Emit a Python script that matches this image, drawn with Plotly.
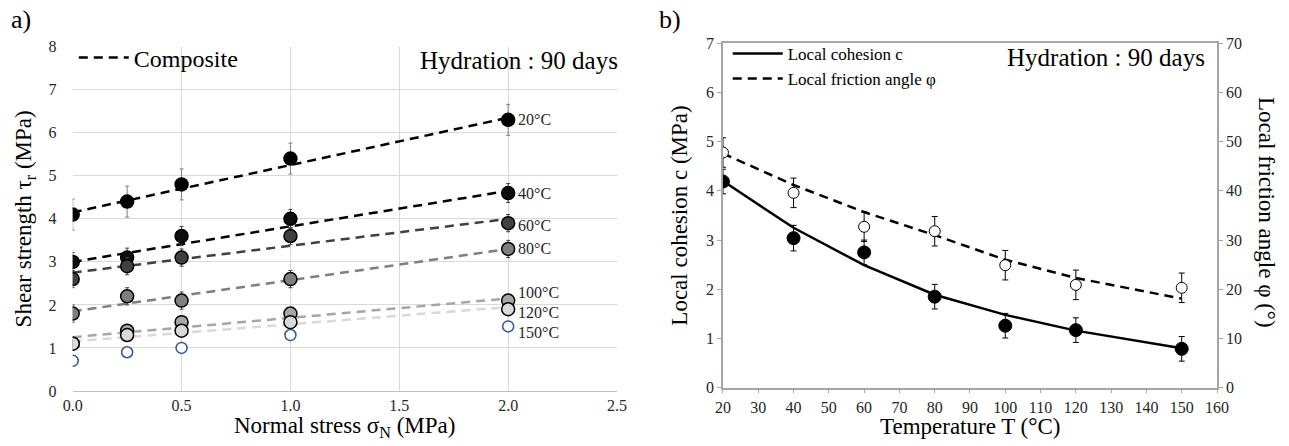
import plotly.graph_objects as go

# ---- panel a) shear strength vs normal stress
sigma_n = [0.0, 0.25, 0.5, 1.0, 2.0]
temps_a = ["20°C", "40°C", "60°C", "80°C", "100°C", "120°C", "150°C"]
tau = {
    "20°C": [4.1, 4.4, 4.8, 5.4, 6.3],
    "40°C": [3.0, 3.1, 3.6, 4.0, 4.6],
    "60°C": [2.6, 2.9, 3.1, 3.6, 3.9],
    "80°C": [1.8, 2.2, 2.1, 2.6, 3.3],
    "100°C": [1.1, 1.4, 1.6, 1.8, 2.1],
    "120°C": [1.1, 1.3, 1.4, 1.6, 1.9],
    "150°C": [0.7, 0.9, 1.0, 1.3, 1.5],
}
tau_err = {
    "20°C": 0.36, "40°C": 0.22, "60°C": 0.2, "80°C": 0.2,
    "100°C": 0.1, "120°C": 0.08, "150°C": 0.0,
}
# linear fit (composite) end points at sigma = 0 and 2
fit_x = [0.0, 2.0]
fit_y = {
    "20°C": [4.15, 6.35],
    "40°C": [3.0, 4.65],
    "60°C": [2.75, 4.0],
    "80°C": [1.85, 3.3],
    "100°C": [1.25, 2.15],
    "120°C": [1.15, 1.95],
}

# ---- panel b) local cohesion and friction angle vs temperature
temp_b = [20, 40, 60, 80, 100, 120, 150]
cohesion = [4.19, 3.04, 2.75, 1.85, 1.26, 1.17, 0.79]
cohesion_err = [0.25, 0.26, 0.25, 0.25, 0.25, 0.25, 0.25]
cohesion_fit = [4.2, 3.25, 2.49, 1.89, 1.48, 1.16, 0.8]
friction = [47.8, 39.6, 32.7, 31.8, 24.9, 20.9, 20.3]
friction_err = [3, 3, 3, 3, 3, 3, 3]
friction_fit = [47.6, 41.2, 35.7, 31.0, 26.0, 22.3, 18.1]

FONT = "Liberation Serif"
marker_fill = {
    "20°C": "#000000", "40°C": "#0d0d0d", "60°C": "#404040", "80°C": "#7f7f7f",
    "100°C": "#a6a6a6", "120°C": "#d9d9d9", "150°C": "#ffffff",
}
line_col = {
    "20°C": "#000000", "40°C": "#000000", "60°C": "#404040", "80°C": "#7f7f7f",
    "100°C": "#a6a6a6", "120°C": "#d9d9d9",
}
err_col = {
    "20°C": "#7f7f7f", "40°C": "#404040", "60°C": "#404040", "80°C": "#404040",
    "100°C": "#595959", "120°C": "#595959", "150°C": "#595959",
}
label_shift = {
    "20°C": 0, "40°C": 0, "60°C": -2, "80°C": 0,
    "100°C": 8, "120°C": -3, "150°C": -6,
}

fig = go.Figure()

for t in temps_a:
    if t in fit_y:
        fig.add_trace(go.Scatter(
            x=fit_x, y=fit_y[t], mode="lines",
            line=dict(color=line_col[t], width=2.5, dash="9px,6px"),
            name="Composite", showlegend=(t == "20°C"), legend="legend",
            xaxis="x", yaxis="y", hoverinfo="skip",
        ))

for t in temps_a:
    open_marker = t == "150°C"
    fig.add_trace(go.Scatter(
        x=sigma_n, y=tau[t], mode="markers", name=t, showlegend=False,
        marker=dict(
            size=13 if not open_marker else 11,
            color=marker_fill[t],
            line=dict(color="#2f5597" if open_marker else "#000000", width=1.5),
        ),
        error_y=dict(type="constant", value=tau_err[t], color=err_col[t],
                     thickness=1, width=2, visible=tau_err[t] > 0),
        xaxis="x", yaxis="y",
    ))

# ---- panel b traces
fig.add_trace(go.Scatter(
    x=temp_b, y=cohesion_fit, mode="lines", name="Local cohesion c",
    line=dict(color="#000000", width=2.5), legend="legend2",
    xaxis="x2", yaxis="y2", hoverinfo="skip",
))
fig.add_trace(go.Scatter(
    x=temp_b, y=friction_fit, mode="lines", name="Local friction angle φ",
    line=dict(color="#000000", width=2.5, dash="9px,6px"), legend="legend2",
    xaxis="x2", yaxis="y3", hoverinfo="skip",
))
fig.add_trace(go.Scatter(
    x=temp_b, y=friction, mode="markers", showlegend=False,
    marker=dict(size=11, color="#ffffff", line=dict(color="#000000", width=1)),
    error_y=dict(type="data", array=friction_err, color="#000000", thickness=1, width=3),
    xaxis="x2", yaxis="y3",
))
fig.add_trace(go.Scatter(
    x=temp_b, y=cohesion, mode="markers", showlegend=False,
    marker=dict(size=13, color="#000000", line=dict(color="#000000", width=1)),
    error_y=dict(type="data", array=cohesion_err, color="#000000", thickness=1, width=3),
    xaxis="x2", yaxis="y2",
))

title_font = dict(family=FONT, size=23, color="#000000")

annotations = []
for t in temps_a:
    annotations.append(dict(
        x=sigma_n[-1], y=tau[t][-1], xref="x", yref="y", text=t,
        showarrow=False, xanchor="left", xshift=8, yshift=label_shift[t],
        font=dict(family=FONT, size=16, color="#262626"),
    ))
annotations += [
    dict(x=0.4794, y=0.918, xref="paper", yref="paper", text="Hydration : 90 days",
         showarrow=False, xanchor="right", yanchor="middle",
         font=dict(family=FONT, size=25, color="#000000")),
    dict(x=0.973, y=0.924, xref="paper", yref="paper", text="Hydration : 90 days",
         showarrow=False, xanchor="right", yanchor="middle",
         font=dict(family=FONT, size=25, color="#000000")),
    dict(x=-0.024, y=1.03, xref="paper", yref="paper", text="a)", showarrow=False,
         xanchor="center", yanchor="middle",
         font=dict(family=FONT, size=26, color="#000000")),
    dict(x=0.5214, y=1.03, xref="paper", yref="paper", text="b)", showarrow=False,
         xanchor="center", yanchor="middle",
         font=dict(family=FONT, size=26, color="#000000")),
    # axis titles placed by hand
    dict(x=0.248, y=-0.086, xref="paper", yref="paper",
         text="Normal stress σ<sub>N</sub> (MPa)", showarrow=False,
         xanchor="center", yanchor="middle", font=title_font),
    dict(x=0.7738, y=-0.082, xref="paper", yref="paper",
         text="Temperature T (°C)", showarrow=False,
         xanchor="center", yanchor="middle", font=title_font),
    dict(x=1.0235, y=0.5, xref="paper", yref="paper", text="Local friction angle φ (°)",
         showarrow=False, textangle=90, xanchor="center", yanchor="middle",
         font=title_font),
]

tick_font = dict(family=FONT, size=16, color="#262626")

fig.update_layout(
    width=1289, height=446,
    margin=dict(l=50, r=50, t=30, b=50),
    paper_bgcolor="#ffffff", plot_bgcolor="#ffffff",
    font=dict(family=FONT, color="#000000"),
    annotations=annotations,
    legend=dict(x=0.02, y=0.985, xanchor="left", yanchor="top",
                bgcolor="rgba(0,0,0,0)", font=dict(family=FONT, size=24),
                itemwidth=50),
    legend2=dict(x=0.57, y=0.984, xanchor="left", yanchor="top",
                 bgcolor="rgba(0,0,0,0)", font=dict(family=FONT, size=17),
                 itemwidth=50, tracegroupgap=0),
    xaxis=dict(
        domain=[0.0191, 0.4769], range=[0, 2.5], dtick=0.5, tickformat=".1f",
        showgrid=True, gridcolor="#d9d9d9", zeroline=False,
        showline=True, linecolor="#bfbfbf", linewidth=1,
        tickfont=tick_font, automargin=False,
    ),
    yaxis=dict(
        domain=[0.0137, 0.9544], range=[0, 8], dtick=1,
        showgrid=True, gridcolor="#d9d9d9", zeroline=False, showline=False,
        tickfont=tick_font, automargin=False, anchor="x",
        ticks="outside", ticklen=12, tickcolor="rgba(0,0,0,0)",
        title=dict(text="Shear strength τ<sub>r</sub> (MPa)", font=title_font, standoff=10),
    ),
    xaxis2=dict(
        domain=[0.566, 0.9815], range=[20, 160], dtick=10,
        showgrid=False, zeroline=False, showline=True, mirror=True,
        linecolor="#a6a6a6", linewidth=1.5, ticks="outside", ticklen=4,
        tickcolor="#a6a6a6", tickfont=tick_font, automargin=False, anchor="y2",
    ),
    yaxis2=dict(
        domain=[0.0227, 0.9637], range=[0, 7], dtick=1,
        showgrid=False, zeroline=False, showline=True,
        linecolor="#a6a6a6", linewidth=1.5, ticks="outside", ticklen=4,
        tickcolor="#a6a6a6", tickfont=tick_font, automargin=False, anchor="x2",
        title=dict(text="Local cohesion c (MPa)", font=title_font, standoff=12),
    ),
    yaxis3=dict(
        domain=[0.0227, 0.9637], range=[0, 70], dtick=10,
        overlaying="y2", side="right", anchor="x2",
        showgrid=False, zeroline=False, showline=True,
        linecolor="#a6a6a6", linewidth=1.5, ticks="outside", ticklen=4,
        tickcolor="#a6a6a6", tickfont=tick_font, automargin=False,
    ),
)

# remove the default page margin so the figure sits at the window's corner
fig.write_html("out.html", config={"displayModeBar": False},
               post_script="document.body.style.margin='0';")
